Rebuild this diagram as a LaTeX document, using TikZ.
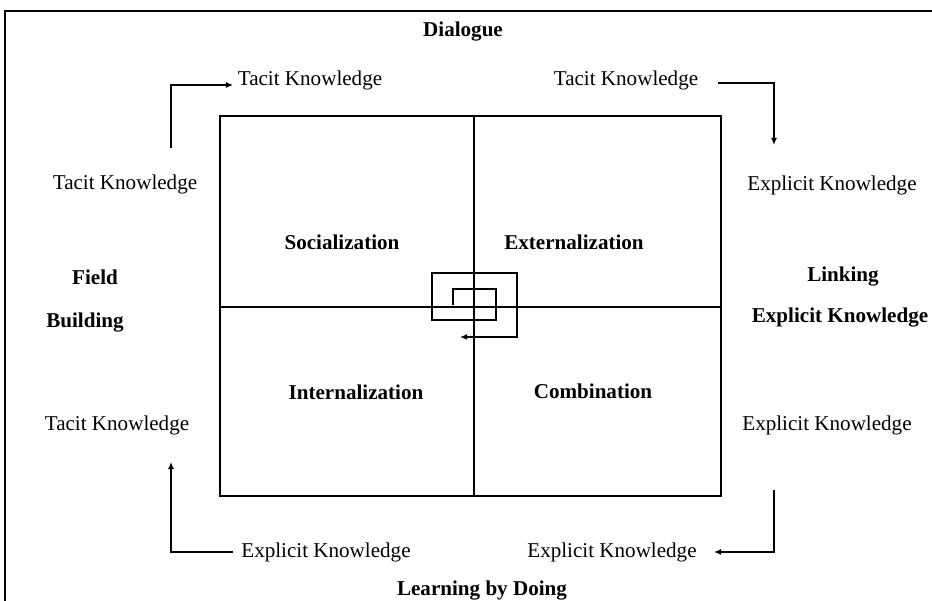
\documentclass[tikz,border=0pt]{standalone}
\usepackage{fontspec}
\setmainfont{Liberation Serif}
\usetikzlibrary{arrows.meta,positioning,calc}
\tikzset{
  knode/.style={font=\fontsize{12}{14}\selectfont, inner sep=1pt},
  mnode/.style={font=\fontsize{12}{14}\selectfont\bfseries, inner sep=1pt},
  qnode/.style={font=\fontsize{12}{14}\selectfont\bfseries, inner sep=1pt},
  grid/.style={line width=1pt},
  flow/.style={line width=1pt, -{Latex[length=4pt,width=3.5pt]}},
}

\begin{document}
\begin{tikzpicture}
\useasboundingbox (0,0) rectangle (18.64,12.02);

% outer frame
\draw[line width=1.1pt] (0.10,0) -- (0.10,11.80) -- (18.64,11.80);

% quadrant box
\coordinate (bl) at (4.40,2.10);
\coordinate (tr) at (14.42,9.70);
\coordinate (mt) at (9.48,9.70);
\coordinate (mb) at (9.48,2.10);
\coordinate (ml) at (4.40,5.88);
\coordinate (mr) at (14.42,5.88);
\draw[grid] (bl) rectangle (tr);
\draw[grid] (mt) -- (mb);
\draw[grid] (ml) -- (mr);

% quadrant names
\node[qnode] (soc) at (6.84,7.18) {Socialization};
\node[qnode] (ext) at (11.48,7.18) {Externalization};
\node[qnode] (int) at (7.12,4.18) {Internalization};
\node[qnode] (com) at (11.86,4.20) {Combination};

% spiral in the centre
\coordinate (s0) at (9.06,5.92);
\coordinate (s1) at (9.20,5.28);
\draw[flow] (s0) -- (9.06,6.24) -- (9.92,6.24) -- (9.92,5.62) -- (8.64,5.62)
  -- (8.64,6.56) -- (10.34,6.56) -- (10.34,5.28) -- (s1);

% mode labels
\node[mnode] (dia) at (9.26,11.38) {Dialogue};
\node[mnode] (fld) at (1.90,6.48) {Field};
\node[mnode] (bld) at (1.70,5.56) {Building};
\node[mnode] (lnk) at (16.86,6.48) {Linking};
\node[mnode] (lek) at (16.80,5.66) {Explicit Knowledge};
\node[mnode] (lbd) at (9.64,0.20) {Learning by Doing};

% knowledge labels
\node[knode] (tk1) at (6.20,10.42) {Tacit Knowledge};
\node[knode] (tk2) at (12.52,10.42) {Tacit Knowledge};
\node[knode] (tk3) at (2.50,8.34) {Tacit Knowledge};
\node[knode] (ek1) at (16.64,8.32) {Explicit Knowledge};
\node[knode] (tk4) at (2.34,3.52) {Tacit Knowledge};
\node[knode] (ek2) at (16.54,3.52) {Explicit Knowledge};
\node[knode] (ek3) at (6.52,0.98) {Explicit Knowledge};
\node[knode] (ek4) at (12.24,0.98) {Explicit Knowledge};

% corner arrows
\coordinate (a1) at (3.42,9.06);  \coordinate (b1) at (4.66,10.32);
\coordinate (a2) at (14.36,10.36); \coordinate (b2) at (15.48,9.12);
\coordinate (a3) at (4.66,0.98);  \coordinate (b3) at (3.42,2.78);
\coordinate (a4) at (15.48,2.22); \coordinate (b4) at (14.28,0.98);
\draw[flow] (a1) |- (b1);
\draw[flow] (a2) -| (b2);
\draw[flow] (a3) -| (b3);
\draw[flow] (a4) |- (b4);

\end{tikzpicture}
\end{document}
